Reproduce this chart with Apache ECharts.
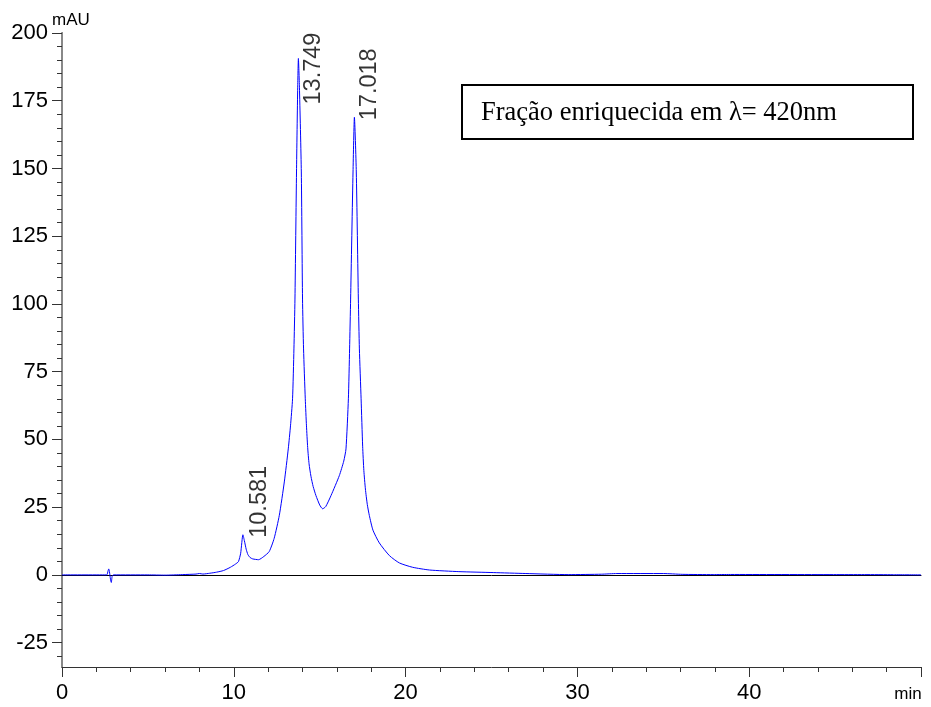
<!DOCTYPE html>
<html>
<head>
<meta charset="utf-8">
<script src="https://cdn.jsdelivr.net/npm/echarts@6/dist/echarts.min.js"></script>
<style>
html,body{margin:0;padding:0;background:#fff;}
#chart{width:931px;height:707px;}
</style>
</head>
<body>
<div id="chart"></div>
<script>
// Retention time (min)
const times = [0, 2.6, 2.68, 2.72, 2.76, 2.82, 2.87, 2.92, 3.0, 5.0, 6.0, 7.0, 7.8, 8.0, 8.2, 8.6, 9.0, 9.4, 9.8, 10.1, 10.27, 10.4, 10.53, 10.62, 10.72, 10.82, 10.95, 11.1, 11.44, 11.75, 12.06, 12.35, 12.65, 12.94, 13.17, 13.3, 13.42, 13.5, 13.56, 13.65, 13.72, 13.76, 13.82, 13.93, 14.0, 14.06, 14.16, 14.23, 14.3, 14.38, 14.49, 14.62, 14.78, 15.0, 15.17, 15.35, 15.66, 16.14, 16.4, 16.53, 16.67, 16.74, 16.8, 16.94, 17.02, 17.13, 17.25, 17.31, 17.41, 17.5, 17.57, 17.66, 17.77, 17.89, 18.1, 18.47, 19.06, 19.64, 20.41, 21.39, 23.1, 25.1, 27.0, 29.5, 31.4, 32.3, 35.0, 36.1, 37.9, 38.9, 44.9, 46.7, 48.4, 50];
// Absorbance (mAU)
const signal = [0, 0, 1.5, 2.2, 1.2, -1.5, -2.8, -0.5, 0, 0, -0.1, 0.1, 0.3, 0.5, 0.3, 0.6, 1.0, 1.6, 2.8, 4.0, 4.9, 8.0, 14.8, 12.5, 9.5, 7.5, 6.4, 5.9, 5.6, 6.8, 8.6, 13.5, 22, 34.3, 46.5, 55, 65, 83.4, 101.8, 148.7, 180, 190.6, 180, 148.7, 101.8, 83.4, 65, 55, 47, 41, 36.4, 32.6, 29.3, 25.8, 24.4, 25.2, 29.3, 36.6, 42, 46.5, 65, 83.4, 101.8, 148.7, 168.9, 148.7, 101.8, 83.4, 65, 47.5, 38.5, 31.7, 26, 21.9, 16.5, 11.8, 7.1, 4.4, 2.8, 1.8, 1.2, 0.85, 0.5, 0.1, 0.25, 0.5, 0.5, 0.2, 0.1, 0.15, 0.1, 0.1, 0.05, 0];

// Annotated peaks
const peakTimes = [10.581, 13.749, 17.018];
const peakHeights = [14.8, 190.6, 168.9];

// Axis ticks
const xTicks = [0, 10, 20, 30, 40, 50];
const yMajorTicks = [-25, 0, 25, 50, 75, 100, 125, 150, 175, 200];
const yMinorTicks = [];
for (let v = -30; v <= 200; v += 5) { if (v % 25 !== 0) yMinorTicks.push(v); }

const titleText = 'Fração enriquecida em λ= 420nm';
const yUnit = 'mAU';

const yMin = -34, yMax = 200;
const sans = 'Liberation Sans, Arial, sans-serif';

const lineData = times.map((t, i) => [t, signal[i]]);
const peakData = peakTimes.map((t, i) => [t, peakHeights[i]]);
// label shifts in the rotated label frame: [along text (up), across text (right)]
const peakOffsets = [[-3, 16], [-46, 15], [-3, 15]];

const chart = echarts.init(document.getElementById('chart'));
chart.setOption({
  animation: false,
  backgroundColor: '#fff',
  grid: { left: 62, right: 10, top: 33, bottom: 40 },
  xAxis: [{
    type: 'value', min: 0, max: 50, interval: 10,
    axisLine: { show: true, onZero: false, lineStyle: { color: '#333', width: 1 } },
    axisTick: { show: true, inside: false, length: 10, lineStyle: { color: '#333' } },
    minorTick: { show: true, splitNumber: 5, length: 5, lineStyle: { color: '#333' } },
    splitLine: { show: false },
    axisLabel: {
      margin: 15, color: '#000', fontFamily: sans, fontSize: 22,
      formatter: v => v === 50 ? '{u|min}' : String(v),
      rich: { u: { fontSize: 17, fontFamily: sans, color: '#000', padding: [4, 26, 0, 0] } }
    }
  }, {
    type: 'value', min: 0, max: 50, position: 'top',
    axisLine: { show: true, lineStyle: { color: '#000', width: 1 } },
    axisTick: { show: false }, axisLabel: { show: false }, splitLine: { show: false }
  }],
  yAxis: [{
    type: 'value', min: yMin, max: yMax, position: 'left',
    axisLine: { show: true, onZero: false, lineStyle: { color: '#000', width: 1 } },
    axisTick: { show: true, inside: false, length: 10, customValues: yMajorTicks, lineStyle: { color: '#333' } },
    axisLabel: { margin: 14, color: '#000', fontFamily: sans, fontSize: 22, customValues: yMajorTicks },
    splitLine: { show: false }
  }, {
    type: 'value', min: yMin, max: yMax, position: 'left',
    axisLine: { show: false },
    axisTick: { show: true, inside: false, length: 5, customValues: yMinorTicks, lineStyle: { color: '#333' } },
    axisLabel: { show: false, customValues: yMinorTicks },
    splitLine: { show: false }
  }, {
    type: 'value', min: yMin, max: yMax, position: 'right',
    axisLine: { show: true, lineStyle: { color: '#888', width: 2 } },
    axisTick: { show: false }, axisLabel: { show: false }, splitLine: { show: false }
  }],
  series: [{
    type: 'line', name: 'signal', data: lineData,
    xAxisIndex: 0, yAxisIndex: 0,
    showSymbol: false, symbol: 'none', smooth: 0.2,
    lineStyle: { color: '#0000ff', width: 1 },
    silent: true
  }, {
    type: 'scatter', name: 'peaks', data: peakData,
    xAxisIndex: 0, yAxisIndex: 0,
    symbolSize: 0, silent: true,
    label: {
      show: true, position: [0, 0], rotate: 90, align: 'left', verticalAlign: 'middle',
      color: '#000', fontFamily: sans, fontSize: 23.5,
      formatter: p => p.value[0].toFixed(3)
    },
    labelLayout: p => ({ dx: peakOffsets[p.dataIndex][0], dy: peakOffsets[p.dataIndex][1] })
  }],
  graphic: [{
    type: 'text', left: 52, top: 12,
    style: { text: yUnit, fill: '#000', font: '17px "Liberation Sans", Arial, sans-serif' }
  }, {
    type: 'group', left: 461, top: 84,
    children: [{
      type: 'rect', shape: { x: 0, y: 0, width: 451, height: 54 },
      style: { fill: '#fff', stroke: '#000', lineWidth: 2 }
    }, {
      type: 'text', x: 19, y: 28,
      style: { text: titleText, fill: '#000', font: '26.5px "Liberation Serif", "Times New Roman", serif', textVerticalAlign: 'middle' }
    }]
  }]
});
</script>
</body>
</html>
